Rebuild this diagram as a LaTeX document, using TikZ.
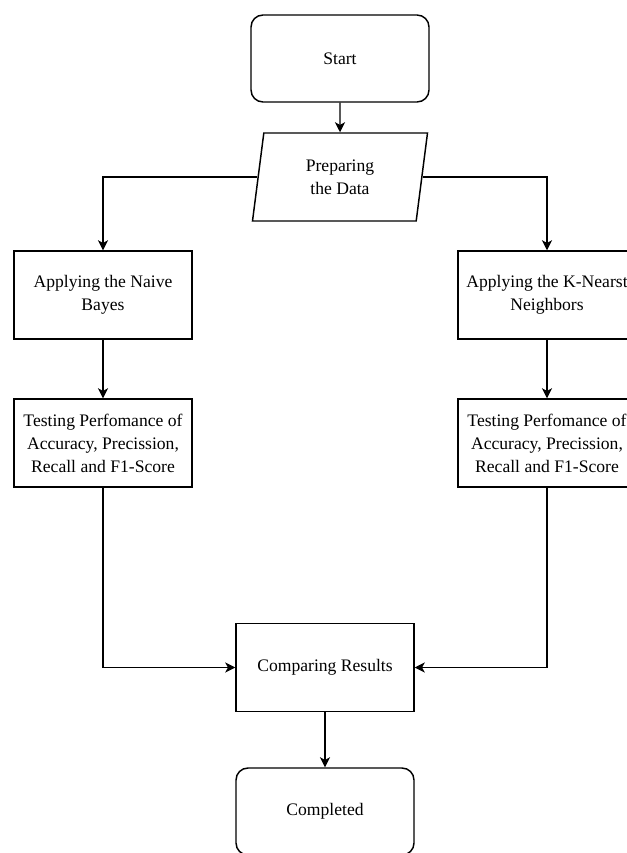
\documentclass[tikz,border=0pt]{standalone}
\usepackage{fontspec}
\setmainfont{Liberation Serif}
\usetikzlibrary{shapes.geometric,arrows.meta}
\begin{document}
\begin{tikzpicture}
[
    x=0.75pt, y=-0.75pt,
    every node/.style={font=\fontsize{13.2}{17.25}\selectfont, align=center, inner sep=0pt},
    box/.style={draw, line width=1.1pt, minimum width=133.5pt, minimum height=66pt},
    term/.style={box, rounded corners=9pt, minimum height=65.25pt},
    data/.style={draw, line width=1.1pt, trapezium, trapezium left angle=72, trapezium right angle=108,
        trapezium stretches body, minimum width=131.25pt, minimum height=66pt},
    arr/.style={-{Stealth[length=7.5pt, width=7.5pt, inset=2pt]}, line width=1.1pt},
]
\useasboundingbox (0,0) rectangle (627,853);
\clip (0,0) rectangle (627,853);
\node[term] (start) at (340,58.5) {Start};
\node[data] (prep) at (340,177) {Preparing\\the Data};
\node[box] (nb) at (103,295) {Applying the Naive\\Bayes};
\node[box] (nbtest) at (103,443) {Testing Perfomance of\\Accuracy, Precission,\\Recall and F1-Score};
\node[box] (knn) at (547,295) {Applying the K-Nearst\\Neighbors};
\node[box] (knntest) at (547,443) {Testing Perfomance of\\Accuracy, Precission,\\Recall and F1-Score};
\node[box] (comp) at (325,667.5) {Comparing Results};
\node[term] (done) at (325,811.5) {Completed};
\draw[arr] (start) -- (prep);
\draw[arr] (prep.west) -| (nb);
\draw[arr] (prep.east) -| (knn);
\draw[arr] (nb) -- (nbtest);
\draw[arr] (knn) -- (knntest);
\draw[arr] (nbtest.south) |- (comp.west);
\draw[arr] (knntest.south) |- (comp.east);
\draw[arr] (comp) -- (done);
\end{tikzpicture}
\end{document}
